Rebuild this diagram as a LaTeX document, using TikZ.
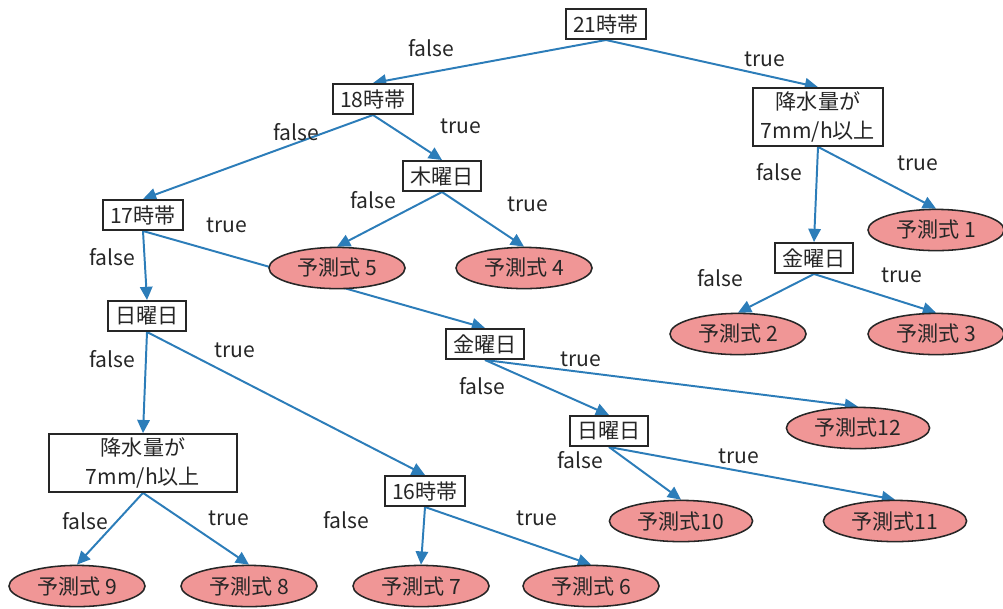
\documentclass[tikz,border=0pt]{standalone}
\usepackage{fontspec}
\setmainfont{Noto Sans CJK JP}
\usepackage{xcolor}
\usetikzlibrary{arrows.meta,shapes.geometric,backgrounds}
\definecolor{edgeblue}{RGB}{44,125,185}
\definecolor{leafpink}{RGB}{240,150,150}
\definecolor{inkgray}{RGB}{38,38,38}

\begin{document}
\begin{tikzpicture}[x=0.025cm, y=-0.025cm,
      every node/.style={font=\fontsize{15}{20}\selectfont, text=inkgray},
      cond/.style={draw=inkgray, line width=1.4pt, fill=white, align=center,
                  minimum height=0.75cm, inner xsep=0.18cm, inner ysep=0.1cm},
      leaf/.style={ellipse, draw=inkgray, line width=1.1pt, fill=leafpink,
                  minimum width=3.4cm, minimum height=1.03cm, inner sep=0pt},
      wideleaf/.style={leaf, minimum width=3.58cm},
      lbl/.style={inner sep=0pt},
      arrow/.style={-{Triangle[length=3.3mm,width=3.1mm]}, line width=1.4pt, draw=edgeblue}
    ]
      \useasboundingbox (0,0) rectangle (1003,608);

      % --- right branch of the root ---
      \node[cond]                                          (h21)   at (606,24)  {21時帯};
      \node[cond, minimum width=3.25cm, minimum height=1.4cm] (rainR) at (818,117) {降水量が\\7mm/h以上};
      \node[leaf]                                          (p1)    at (936,230) {予測式 1};
      \node[cond]                                          (friR)  at (814,258) {金曜日};
      \node[leaf]                                          (p2)    at (738,334) {予測式 2};
      \node[leaf]                                          (p3)    at (936,334) {予測式 3};

      % --- left branch of the root ---
      \node[cond]                                          (h18)   at (373,99)  {18時帯};
      \node[cond]                                          (thu)   at (442,176) {木曜日};
      \node[leaf]                                          (p5)    at (337,268) {予測式 5};
      \node[leaf]                                          (p4)    at (524,268) {予測式 4};
      \node[cond]                                          (h17)   at (143,215) {17時帯};
      \node[cond]                                          (sunL)  at (147,316) {日曜日};
      \node[cond]                                          (friM)  at (485,344) {金曜日};
      \node[wideleaf]                                      (p12)   at (858,428) {予測式12};
      \node[cond]                                          (sunM)  at (609,431) {日曜日};
      \node[wideleaf]                                      (p10)   at (681,521) {予測式10};
      \node[wideleaf]                                      (p11)   at (895,521) {予測式11};
      \node[cond, minimum width=4.7cm, minimum height=1.4cm] (rainL) at (143,463) {降水量が\\7mm/h以上};
      \node[cond]                                          (h16)   at (425,491) {16時帯};
      \node[leaf]                                          (p9)    at (77,586)  {予測式 9};
      \node[leaf]                                          (p8)    at (249,586) {予測式 8};
      \node[leaf]                                          (p7)    at (421,586) {予測式 7};
      \node[leaf]                                          (p6)    at (591,586) {予測式 6};

      % --- branch labels ---
      \node[lbl] (f21)   at (431,48)  {false};
      \node[lbl] (t21)   at (765,59)  {true};
      \node[lbl] (frainR) at (779,172) {false};
      \node[lbl] (trainR) at (918,163) {true};
      \node[lbl] (ffriR) at (720,278) {false};
      \node[lbl] (tfriR) at (902,275) {true};
      \node[lbl] (f18)   at (296,132) {false};
      \node[lbl] (t18)   at (461,126) {true};
      \node[lbl] (fthu)  at (373,200) {false};
      \node[lbl] (tthu)  at (528,204) {true};
      \node[lbl] (f17)   at (112,257) {false};
      \node[lbl] (t17)   at (227,225) {true};
      \node[lbl] (fsunL) at (112,359) {false};
      \node[lbl] (tsunL) at (235,350) {true};
      \node[lbl] (ffriM) at (482,386) {false};
      \node[lbl] (tfriM) at (581,359) {true};
      \node[lbl] (fsunM) at (580,460) {false};
      \node[lbl] (tsunM) at (739,456) {true};
      \node[lbl] (frainL) at (85,521) {false};
      \node[lbl] (trainL) at (229,518) {true};
      \node[lbl] (f16)   at (346,520) {false};
      \node[lbl] (t16)   at (537,518) {true};

      % --- connectors, kept behind the nodes ---
      \begin{scope}[on background layer]
        \draw[arrow] (h21.south)   -- (h18.north);
        \draw[arrow] (h21.south)   -- (rainR.north);
        \draw[arrow] (rainR.south) -- (friR.north);
        \draw[arrow] (rainR.south) -- (p1.north);
        \draw[arrow] (friR.south)  -- (p2.north);
        \draw[arrow] (friR.south)  -- (p3.north);
        \draw[arrow] (h18.south)   -- (h17.north);
        \draw[arrow] (h18.south)   -- (thu.north);
        \draw[arrow] (thu.south)   -- (p5.north);
        \draw[arrow] (thu.south)   -- (p4.north);
        \draw[arrow] (h17.south)   -- (sunL.north);
        \draw[arrow] (h17.south)   -- (friM.north);
        \draw[arrow] (friM.south)  -- (sunM.north);
        \draw[arrow] (friM.south)  -- (p12.north);
        \draw[arrow] (sunM.south)  -- (p10.north);
        \draw[arrow] (sunM.south)  -- (p11.north);
        \draw[arrow] (sunL.south)  -- (rainL.north);
        \draw[arrow] (sunL.south)  -- (h16.north);
        \draw[arrow] (rainL.south) -- (p9.north);
        \draw[arrow] (rainL.south) -- (p8.north);
        \draw[arrow] (h16.south)   -- (p7.north);
        \draw[arrow] (h16.south)   -- (p6.north);
      \end{scope}
    \end{tikzpicture}
\end{document}
